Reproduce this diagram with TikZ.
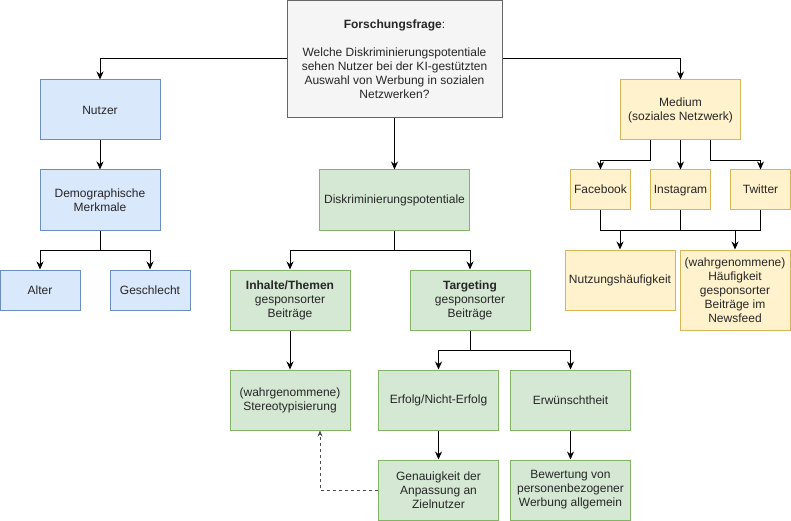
\documentclass[tikz,border=0pt]{standalone}
\usepackage{fontspec}
\setmainfont{Liberation Sans}
\usetikzlibrary{arrows.meta}
\definecolor{bluefill}{HTML}{DAE8FC}
\definecolor{blueline}{HTML}{6C8EBF}
\definecolor{greenfill}{HTML}{D5E8D4}
\definecolor{greenline}{HTML}{82B366}
\definecolor{yellowfill}{HTML}{FFF2CC}
\definecolor{yellowline}{HTML}{D6B656}
\definecolor{grayfill}{HTML}{F5F5F5}
\definecolor{grayline}{HTML}{666666}
\begin{document}
\begin{tikzpicture}[x=1pt,y=-1pt,
  box/.style={draw,line width=1pt,align=center,inner sep=2pt,font=\fontsize{12}{14}\selectfont,text=black!85},
  bluebox/.style={box,fill=bluefill,draw=blueline,minimum width=120pt,minimum height=60pt},
  greenbox/.style={box,fill=greenfill,draw=greenline,minimum width=120pt,minimum height=60pt},
  yellowbox/.style={box,fill=yellowfill,draw=yellowline,minimum width=120pt,minimum height=60pt},
  platformbox/.style={yellowbox,minimum width=60pt,minimum height=40pt,text height=9.5pt,text depth=1.5pt},
  questionbox/.style={box,fill=grayfill,draw=grayline},
  arr/.style={-{Stealth[length=8pt,width=7pt]},line width=1pt},
  hint/.style={-{Stealth[length=6pt,width=5pt]},line width=0.6pt,dashed,draw=black!70}]
  \useasboundingbox (0,0) rectangle (791,521);
  \node[questionbox,minimum width=215pt,minimum height=117pt] (frage) at (394.5,59)
    {\textbf{Forschungsfrage}:\\[14pt]Welche Diskriminierungspotentiale\\sehen Nutzer bei der KI-gestützten\\Auswahl von Werbung in sozialen\\Netzwerken?};
  \node[bluebox] (nutzer) at (100,110) {Nutzer};
  \node[bluebox] (demo) at (100,200) {Demographische\\Merkmale};
  \node[bluebox,minimum width=80pt,minimum height=40pt] (alter) at (40,290) {Alter};
  \node[bluebox,minimum width=80pt,minimum height=40pt] (geschlecht) at (150,290) {Geschlecht};
  \node[greenbox,minimum width=150pt] (disk) at (394.5,200) {Diskriminierungspotentiale};
  \node[greenbox] (inhalte) at (290,300) {\textbf{Inhalte/Themen}\\gesponsorter\\Beiträge};
  \node[greenbox] (targeting) at (470,300) {\textbf{Targeting}\\gesponsorter\\Beiträge};
  \node[greenbox] (stereo) at (290,400) {(wahrgenommene)\\Stereotypisierung};
  \node[greenbox] (erfolg) at (438.5,400) {Erfolg/Nicht-Erfolg};
  \node[greenbox] (erwuenscht) at (570.5,400) {Erwünschtheit};
  \node[greenbox] (genau) at (438.5,490) {Genauigkeit der\\Anpassung an\\Zielnutzer};
  \node[greenbox] (bewertung) at (570.5,490) {Bewertung von\\personenbezogener\\Werbung allgemein};
  \node[yellowbox] (medium) at (680.5,110) {Medium\\(soziales Netzwerk)};
  \node[platformbox] (facebook) at (600.5,190) {Facebook};
  \node[platformbox] (instagram) at (680.5,190) {Instagram};
  \node[platformbox] (twitter) at (760.5,190) {Twitter};
  \node[yellowbox,minimum width=110pt,minimum height=60pt] (nutzung) at (620,280) {Nutzungshäufigkeit};
  \node[yellowbox,minimum width=110pt,minimum height=80pt] (haeufig) at (735,290) {(wahrgenommene)\\Häufigkeit\\gesponsorter\\Beiträge im\\Newsfeed};
  \draw[arr] (frage.west) -| (nutzer.north);
  \draw[arr] (frage.east) -| (medium.north);
  \draw[arr] (frage) -- (disk);
  \draw[arr] (nutzer) -- (demo);
  \draw[arr] (demo.south) -- ++(0,20) -| (alter.north);
  \draw[arr] (demo.south) -- ++(0,20) -| (geschlecht.north);
  \draw[arr] (disk.south) -- ++(0,20) -| (inhalte.north);
  \draw[arr] (disk.south) -- ++(0,20) -| (targeting.north);
  \draw[arr] (inhalte) -- (stereo);
  \draw[arr] (targeting.south) -- ++(0,20) -| (erfolg.north);
  \draw[arr] (targeting.south) -- ++(0,20) -| (erwuenscht.north);
  \draw[arr] (erfolg) -- (genau);
  \draw[arr] (erwuenscht) -- (bewertung);
  \draw[hint] (genau.west) -| ([xshift=30pt]stereo.south);
  \draw[arr] ([xshift=-30pt]medium.south) -- ++(0,20) -| (facebook.north);
  \draw[arr] (medium) -- (instagram);
  \draw[arr] ([xshift=30pt]medium.south) -- ++(0,20) -| (twitter.north);
  \draw[line width=1pt] (facebook.south) -- ++(0,20) -| (twitter.south);
  \draw[line width=1pt] (instagram.south) -- ++(0,20);
  \draw[arr] ([yshift=20pt]nutzung.north) -- (nutzung.north);
  \draw[arr] ([yshift=20pt]haeufig.north) -- (haeufig.north);
\end{tikzpicture}
\end{document}
